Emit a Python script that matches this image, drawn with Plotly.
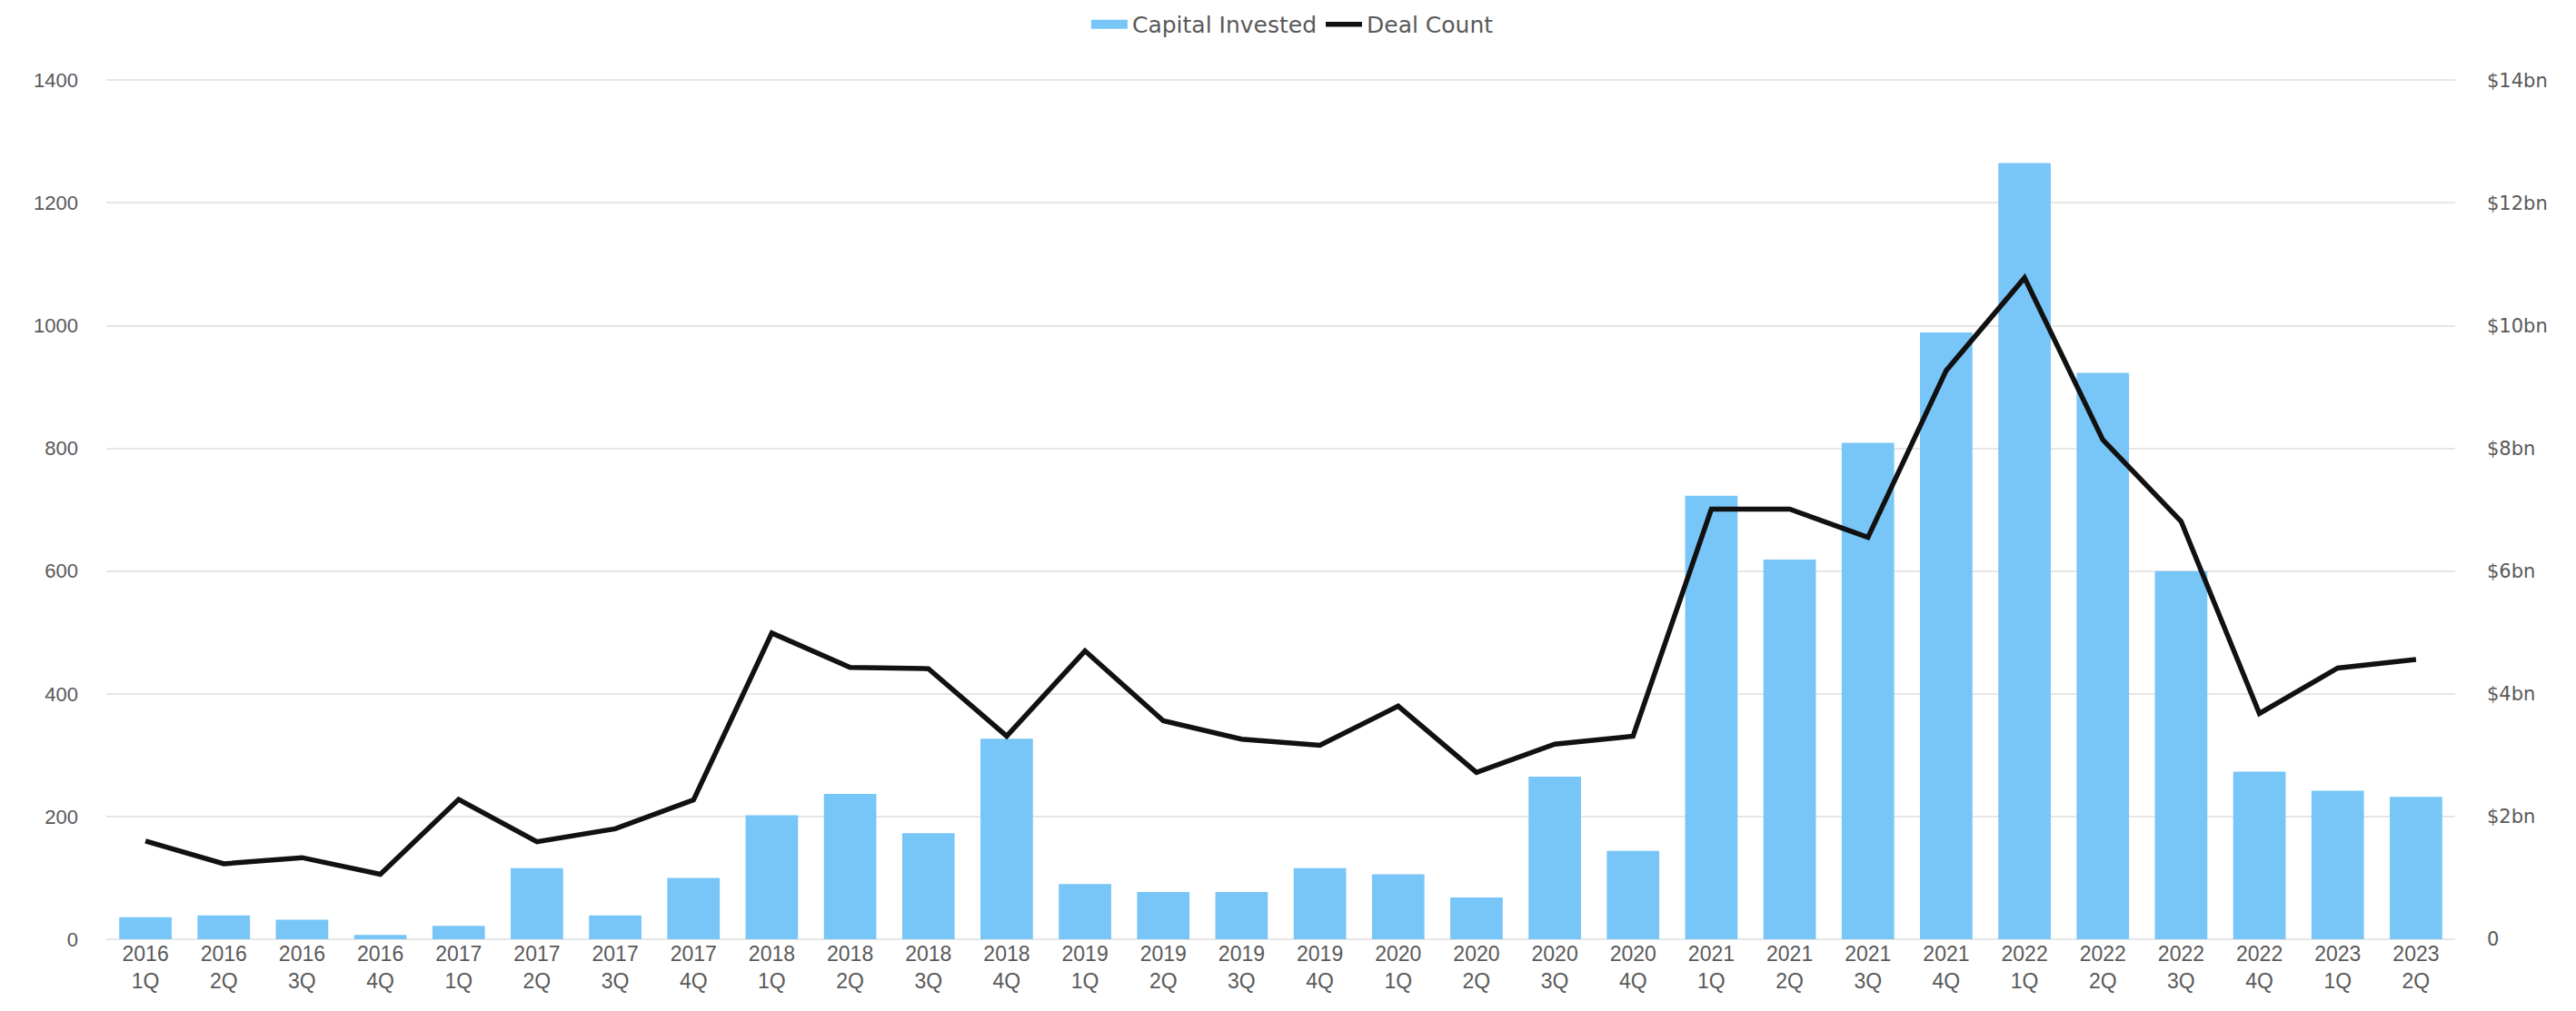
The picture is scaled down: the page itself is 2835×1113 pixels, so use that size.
import plotly.graph_objects as go

quarters = ["2016<br>1Q", "2016<br>2Q", "2016<br>3Q", "2016<br>4Q",
            "2017<br>1Q", "2017<br>2Q", "2017<br>3Q", "2017<br>4Q",
            "2018<br>1Q", "2018<br>2Q", "2018<br>3Q", "2018<br>4Q",
            "2019<br>1Q", "2019<br>2Q", "2019<br>3Q", "2019<br>4Q",
            "2020<br>1Q", "2020<br>2Q", "2020<br>3Q", "2020<br>4Q",
            "2021<br>1Q", "2021<br>2Q", "2021<br>3Q", "2021<br>4Q",
            "2022<br>1Q", "2022<br>2Q", "2022<br>3Q", "2022<br>4Q",
            "2023<br>1Q", "2023<br>2Q"]

# Capital invested, $bn (right axis)
capital_bn = [0.36, 0.39, 0.32, 0.07, 0.22, 1.16, 0.39, 1.00,
              2.02, 2.37, 1.73, 3.27, 0.90, 0.77, 0.77, 1.16,
              1.06, 0.68, 2.65, 1.44, 7.23, 6.19, 8.09, 9.89,
              12.65, 9.23, 6.00, 2.73, 2.42, 2.32]

# Deal count (left axis)
deal_count = [160, 123, 133, 106, 228, 159, 180, 227,
              499, 443, 441, 331, 470, 356, 326, 316,
              380, 272, 318, 331, 701, 701, 655, 927,
              1078, 814, 681, 368, 442, 456]

left_ticks = [0, 200, 400, 600, 800, 1000, 1200, 1400]
right_ticks = [0, 2, 4, 6, 8, 10, 12, 14]
right_labels = ["0", "$2bn", "$4bn", "$6bn", "$8bn", "$10bn", "$12bn", "$14bn"]

bar_color = "#78C6F7"
text_gray = "#595959"

fig = go.Figure()

fig.add_trace(go.Bar(
    x=quarters, y=capital_bn, name="Capital Invested",
    marker=dict(color=bar_color, line=dict(width=0)),
    yaxis="y", showlegend=False,
))
fig.add_trace(go.Scatter(
    x=quarters, y=deal_count, name="Deal Count", mode="lines",
    line=dict(color="#111111", width=5.5),
    yaxis="y2", showlegend=False,
))
# legend swatches
fig.add_trace(go.Scatter(
    x=[None], y=[None], name="Capital Invested", mode="lines",
    line=dict(color=bar_color, width=12), yaxis="y",
))
fig.add_trace(go.Scatter(
    x=[None], y=[None], name="Deal Count", mode="lines",
    line=dict(color="#111111", width=5.5), yaxis="y",
))

fig.update_layout(
    width=2835, height=1113,
    margin=dict(l=109, r=141, t=77, b=87, autoexpand=False),
    paper_bgcolor="white", plot_bgcolor="white",
    bargap=0.33,
    showlegend=True,
    legend=dict(
        orientation="h", x=0.505, xanchor="center",
        yref="container", y=0.983, yanchor="middle",
        font=dict(family="DejaVu Sans", size=25, color=text_gray),
        itemwidth=40, tracegroupgap=0, traceorder="normal",
    ),
    xaxis=dict(
        type="category", showgrid=False, showline=False, ticks="",
        tickfont=dict(family="Liberation Sans", size=23, color=text_gray),
        tickangle=0,
    ),
    yaxis=dict(
        side="right", range=[0, 14.05], tickvals=right_ticks, ticktext=right_labels,
        showgrid=True, gridcolor="#E6E6E6", gridwidth=2,
        zeroline=True, zerolinecolor="#E6E6E6", zerolinewidth=2,
        showline=False, ticks="", ticklabelstandoff=34,
        tickfont=dict(family="DejaVu Sans", size=21, color=text_gray),
    ),
    yaxis2=dict(
        side="left", overlaying="y", range=[0, 1405], tickvals=left_ticks,
        showgrid=False, zeroline=False, showline=False, ticks="",
        ticklabelstandoff=30,
        tickfont=dict(family="Liberation Sans Narrow, Liberation Sans", size=22, color=text_gray),
    ),
)

fig.write_html("out.html")
